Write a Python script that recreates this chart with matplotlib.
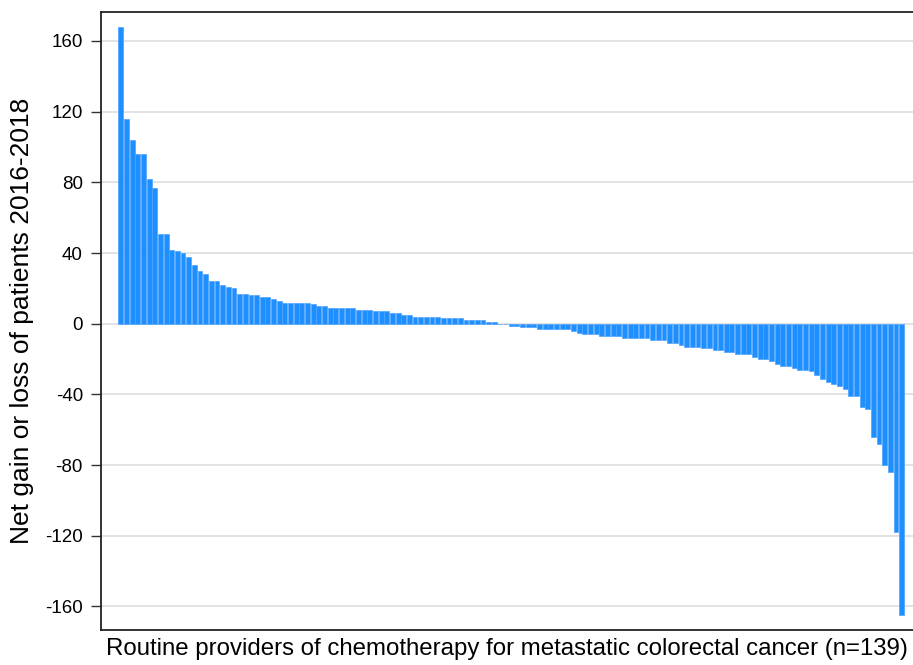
# net gain / loss of patients per routine chemo provider, sorted waterfall
import matplotlib.pyplot as plt
import numpy as np

plt.rcParams['font.family'] = ['Liberation Sans', 'DejaVu Sans']

# values, in plot order (n=139)
top_gains = [168, 116, 104, 96, 96, 82, 77, 51, 51, 42, 41, 40, 38, 33, 30, 28,
             24, 24, 22, 21, 20, 17, 17, 16, 16, 15, 15, 14, 13]
small_changes = ([12] * 5 + [11] + [10] * 2 + [9] * 5 + [8] * 3 + [7] * 3 +
                 [6] * 2 + [5] * 2 + [4] * 5 + [3] * 4 + [2] * 4 + [1] * 2 +
                 [0] * 2 + [-1] * 2 + [-2] * 3 + [-3] * 6 + [-4] + [-5] +
                 [-6] * 3 + [-7] * 4 + [-8] * 5 + [-9] * 3 + [-11] * 2 + [-12] +
                 [-13] * 3 + [-14] * 2 + [-15] * 2 + [-16] * 2 + [-17] * 3)
top_losses = [-19, -20, -20, -21, -23, -24, -24, -25, -26, -26, -27, -29, -31,
              -33, -34, -35, -37, -41, -41, -47, -48, -64, -68, -80, -84, -118, -165]

net = np.array(top_gains + small_changes + top_losses)
providers = np.arange(1, len(net) + 1)

ytick_vals = [-160, -120, -80, -40, 0, 40, 80, 120, 160]

fig = plt.figure(figsize=(9.13, 6.65), dpi=100)
ax = fig.add_axes([101 / 913, 35 / 665, 812 / 913, 618 / 665])

ax.bar(providers, net, width=0.86, color='#1e8fff', edgecolor='#4da3ff',
       linewidth=0.5, zorder=3)

ax.set_xlim(-2.5, 141)
ax.set_ylim(-173.3, 176.4)
ax.set_yticks(ytick_vals)
ax.set_yticklabels([str(v) for v in ytick_vals], fontsize=13.5)
ax.set_xticks([])
ax.tick_params(axis='y', length=7, width=1, pad=6, color='#333333')
ax.grid(axis='y', color='#e3e3e3', linewidth=1.4, zorder=0)

for side in ['left', 'bottom', 'top']:
    ax.spines[side].set_linewidth(1.3)
    ax.spines[side].set_color('#222222')
ax.spines['right'].set_visible(False)

ax.set_ylabel('Net gain or loss of patients 2016-2018', fontsize=19, labelpad=8)
ax.set_xlabel('Routine providers of chemotherapy for metastatic colorectal cancer (n=139)',
              fontsize=17.3, labelpad=6)

fig.savefig('out.png', dpi=100)
